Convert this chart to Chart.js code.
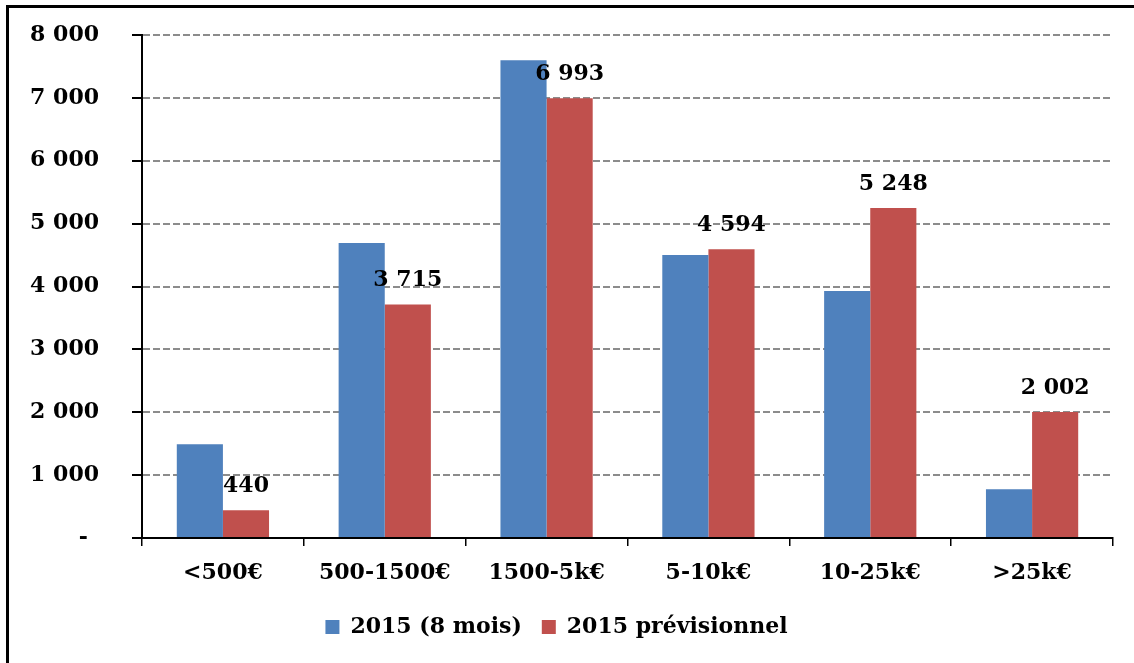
<!DOCTYPE html>
<html>
<head>
<meta charset="utf-8">
<script src="https://cdn.jsdelivr.net/npm/chart.js@4.4.0/dist/chart.umd.min.js"></script>
<style>
  html, body { margin: 0; padding: 0; background: #fff; overflow: hidden; }
  #frame { position: absolute; left: 6px; top: 5px; width: 1200px; height: 700px; border: 3px solid #000; box-sizing: border-box; }
  #chart { position: absolute; left: 0; top: 0; }
</style>
</head>
<body>
<div id="frame"></div>
<canvas id="chart" width="1134" height="663"></canvas>
<script>
// Tranches de montant
const categories = ['<500€', '500-1500€', '1500-5k€', '5-10k€', '10-25k€', '>25k€'];
// Nombre de dossiers
const eightMonths = [1490, 4690, 7600, 4500, 3930, 775];
const forecast = [440, 3715, 6993, 4594, 5248, 2002];
const seriesNames = ['2015 (8 mois)', '2015 prévisionnel'];
const yTicks = [0, 1000, 2000, 3000, 4000, 5000, 6000, 7000, 8000];

const FONT = { family: '"DejaVu Serif", serif', size: 22, weight: 'bold' };

function fmt(v) {
    return String(v).replace(/\B(?=(\d{3})+(?!\d))/g, ' ');
}

// writes the forecast value above each red bar
const valueLabels = {
    id: 'valueLabels',
    afterDatasetsDraw(chart) {
        const ctx = chart.ctx;
        const meta = chart.getDatasetMeta(1);
        ctx.save();
        ctx.font = 'bold 22px "DejaVu Serif"';
        ctx.fillStyle = '#000';
        ctx.textAlign = 'center';
        ctx.textBaseline = 'alphabetic';
        meta.data.forEach((bar, i) => {
            ctx.fillText(fmt(forecast[i]), bar.x, bar.y - 18);
        });
        ctx.restore();
    }
};

const ctx = document.getElementById('chart').getContext('2d');
new Chart(ctx, {
    type: 'bar',
    data: {
        labels: categories,
        datasets: [{
            label: seriesNames[0],
            data: eightMonths,
            backgroundColor: '#4F81BD',
            borderWidth: 0,
            barPercentage: 1,
            categoryPercentage: 0.57
        }, {
            label: seriesNames[1],
            data: forecast,
            backgroundColor: '#C0504D',
            borderWidth: 0,
            barPercentage: 1,
            categoryPercentage: 0.57
        }]
    },
    options: {
        responsive: false,
        animation: false,
        layout: { padding: { left: 0, right: 21, top: 35, bottom: 15 } },
        plugins: {
            legend: {
                position: 'bottom',
                labels: {
                    color: '#000',
                    font: FONT,
                    boxWidth: 14,
                    boxHeight: 14,
                    padding: 20
                }
            },
            tooltip: { enabled: false }
        },
        scales: {
            x: {
                afterFit: (scale) => { scale.height = 58; },
                ticks: { color: '#000', font: FONT, padding: 14 },
                grid: {
                    offset: true,
                    drawOnChartArea: false,
                    color: '#000',
                    lineWidth: 1.5,
                    tickLength: 8
                },
                border: { color: '#000', width: 2 }
            },
            y: {
                min: 0,
                max: 8000,
                afterFit: (scale) => {
                    scale.width = 142;
                    // the wide label gap should not push the plot down
                    scale.paddingTop = 12;
                    scale.paddingBottom = 12;
                },
                afterBuildTicks: (scale) => { scale.ticks = yTicks.map(v => ({ value: v })); },
                ticks: {
                    color: '#000',
                    font: FONT,
                    padding: 33,
                    callback: (v) => v === 0 ? '-\u2002' : fmt(v)
                },
                grid: {
                    color: (c) => c.tick && c.tick.value === 0 ? 'rgba(0,0,0,0)' : '#8C8C8C',
                    lineWidth: 2,
                    tickColor: '#000',
                    tickWidth: 2,
                    tickBorderDash: [],
                    tickLength: 10
                },
                border: { color: '#000', width: 2, dash: [7, 3] }
            }
        }
    },
    plugins: [valueLabels]
});
</script>
</body>
</html>
